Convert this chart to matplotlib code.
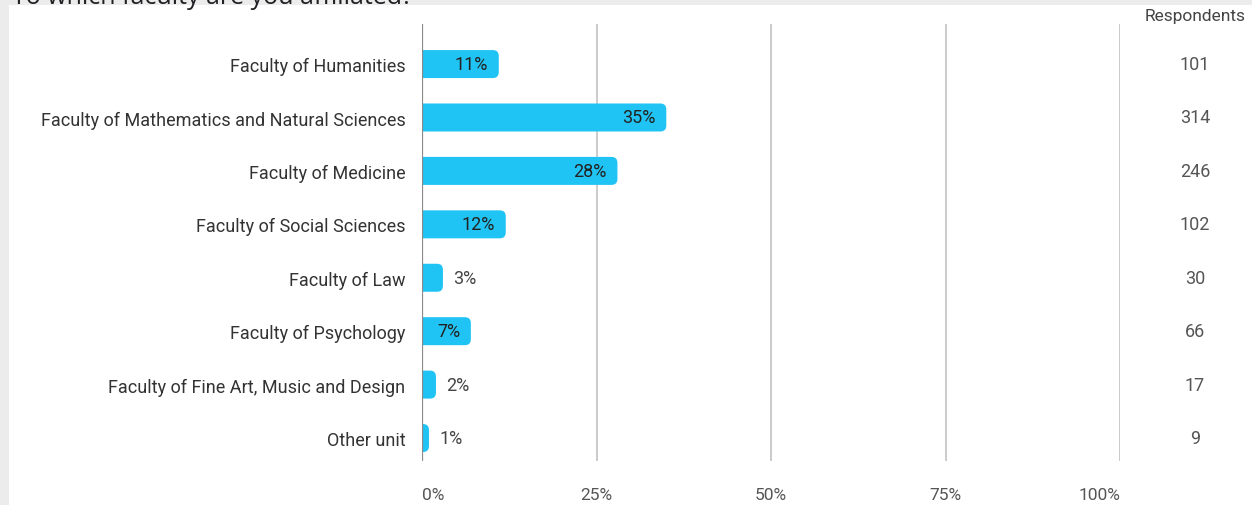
import matplotlib.pyplot as plt
from matplotlib.patches import FancyBboxPatch, Rectangle
from matplotlib.transforms import blended_transform_factory

plt.rcParams['font.family'] = ['Roboto', 'DejaVu Sans']

faculties = [
    "Faculty of Humanities",
    "Faculty of Mathematics and Natural Sciences",
    "Faculty of Medicine",
    "Faculty of Social Sciences",
    "Faculty of Law",
    "Faculty of Psychology",
    "Faculty of Fine Art, Music and Design",
    "Other unit",
]
percents = [11, 35, 28, 12, 3, 7, 2, 1]
respondents = [101, 314, 246, 102, 30, 66, 17, 9]
xticks = [0, 25, 50, 75, 100]

BAR_COLOR = "#20c4f4"
W, H = 1252, 506

fig = plt.figure(figsize=(W / 100, H / 100), dpi=100)
fig.patch.set_facecolor("#ececec")
# white panel
fig.add_artist(Rectangle((9 / W, 0), 1 - 9 / W, 1 - 6 / H, transform=fig.transFigure,
                         facecolor="white", edgecolor="none", zorder=0))
fig.text(12 / W, 1 - 4 / H, "To which faculty are you affiliated?", fontsize=18,
         family=["Open Sans", "DejaVu Sans"], color="#202124", va="baseline", ha="left")

ax = fig.add_axes([422 / W, 1 - 462 / H, 698 / W, 437 / H])
ax.set_facecolor("none")
ax.set_xlim(0, 100)
ax.set_ylim(7.43, -0.75)

# respondents column: x in figure coords, y in data
col = blended_transform_factory(fig.transFigure, ax.transData)
COL_X = 1195 / W

bar_h = 28 / 53.43
r = 0.85
asp = (6 / 53.43) / r
for i, (p, n) in enumerate(zip(percents, respondents)):
    box = FancyBboxPatch((-2, i - bar_h / 2), p + 2, bar_h,
                         boxstyle=f"round,pad=0,rounding_size={r}",
                         mutation_aspect=asp, facecolor=BAR_COLOR,
                         edgecolor="none", zorder=2)
    ax.add_patch(box)
    if p >= 5:
        ax.text(p - 1.5, i, f"{p}%", ha="right", va="center", fontsize=13,
                color="#222222", zorder=3)
    else:
        ax.text(p + 1.5, i, f"{p}%", ha="left", va="center", fontsize=13,
                color="#444444", zorder=3)
    ax.text(COL_X, i, str(n), transform=col, fontsize=13,
            color="#555555", ha="center", va="center")

ax.text(COL_X, -0.9, "Respondents", transform=col, fontsize=12.5,
        color="#444444", ha="center", va="center")

for x in xticks[1:]:
    ax.axvline(x, color="#bdbdbd", lw=1.1, zorder=1)
ax.axvline(0, color="#8a8a8a", lw=1.6, zorder=4)

ax.set_yticks(range(len(faculties)))
ax.set_yticklabels(faculties, fontsize=13, color="#333333")
ax.set_xticks(xticks)
ax.set_xticklabels([f"{x}%" for x in xticks], fontsize=12.5, color="#555555")
xl = ax.get_xticklabels()
xl[0].set_ha("left")
xl[-1].set_ha("right")
ax.tick_params(length=0)
ax.tick_params(axis="y", pad=12)
ax.tick_params(axis="x", pad=19)
for s in ax.spines.values():
    s.set_visible(False)

fig.savefig("out.png", dpi=100)
